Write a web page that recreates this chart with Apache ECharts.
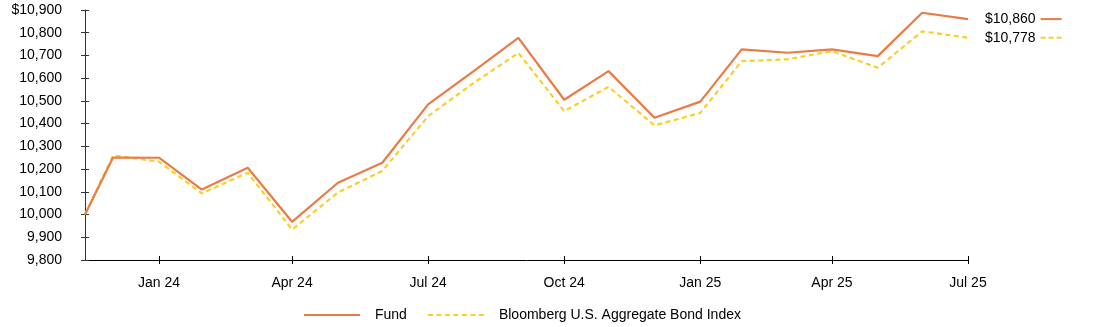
<!DOCTYPE html>
<html>
<head>
<meta charset="utf-8">
<script src="https://cdn.jsdelivr.net/npm/echarts@6/dist/echarts.min.js"></script>
<style>
  html, body { margin: 0; padding: 0; background: #fff; }
  #chart { width: 1094px; height: 327px; }
</style>
</head>
<body>
<div id="chart"></div>
<script>
// ---- data ----
const dates = ['2023-12-12','2023-12-31','2024-01-31','2024-02-29','2024-03-31','2024-04-30','2024-05-31','2024-06-30','2024-07-31','2024-08-31','2024-09-30','2024-10-31','2024-11-30','2024-12-31','2025-01-31','2025-02-28','2025-03-31','2025-04-30','2025-05-31','2025-06-30','2025-07-31'];
const fundValues = [10000,10251,10250,10110,10206,9968,10140,10228,10485,10632,10777,10505,10631,10426,10497,10727,10712,10727,10697,10888,10860];
const indexValues = [10000,10260,10233,10093,10184,9934,10097,10192,10433,10580,10711,10455,10562,10392,10447,10675,10683,10719,10646,10806,10778];
const seriesNames = ['Fund', 'Bloomberg U.S. Aggregate Bond Index'];
const tickDates = ['2024-01-31','2024-04-30','2024-07-31','2024-10-31','2025-01-31','2025-04-30','2025-07-31'];
const yMin = 9800, yMax = 10900, yStep = 100;

const FONT = '"Liberation Sans", Arial, sans-serif';
const ORANGE = '#E97B45';
const YELLOW = '#F7D02C';
const MONTHS = ['Jan','Feb','Mar','Apr','May','Jun','Jul','Aug','Sep','Oct','Nov','Dec'];

function toTs(s) { const p = s.split('-').map(Number); return Date.UTC(p[0], p[1] - 1, p[2]); }
function fmtNum(v) { return Math.round(v).toLocaleString('en-US'); }

const xs = dates.map(toTs);
const tickTs = tickDates.map(toTs);
const xMin = xs[0], xMax = xs[xs.length - 1];

const gridBox = { left: 85, right: 126, top: 10, bottom: 67 };

const chart = echarts.init(document.getElementById('chart'), null, { renderer: 'canvas' });

const option = {
  animation: false,
  backgroundColor: '#fff',
  textStyle: { fontFamily: FONT },
  grid: [
    Object.assign({}, gridBox),
    Object.assign({}, gridBox)
  ],
  xAxis: [
    {
      type: 'value', gridIndex: 0, min: xMin, max: xMax, scale: true,
      axisLine: { show: true, lineStyle: { color: '#000', width: 1 } },
      axisTick: { show: true, inside: false, length: 4, customValues: tickTs, lineStyle: { color: '#000' } },
      axisLabel: {
        show: true, customValues: tickTs, margin: 16,
        fontSize: 14, color: '#000', fontFamily: FONT,
        formatter: function (v) { const d = new Date(v); return MONTHS[d.getUTCMonth()] + ' ' + String(d.getUTCFullYear()).slice(2); }
      },
      splitLine: { show: false }
    },
    {
      type: 'value', gridIndex: 1, min: xMin, max: xMax, scale: true,
      axisLine: { show: false },
      axisTick: { show: true, inside: true, length: 4, customValues: tickTs, lineStyle: { color: '#000' } },
      axisLabel: { show: false },
      splitLine: { show: false }
    }
  ],
  yAxis: [
    {
      type: 'value', gridIndex: 0, min: yMin, max: yMax, interval: yStep,
      axisLine: { show: true, lineStyle: { color: '#333', width: 1 } },
      axisTick: { show: true, inside: false, length: 4, lineStyle: { color: '#333' } },
      axisLabel: {
        fontSize: 14, color: '#000', margin: 23, fontFamily: FONT,
        formatter: function (v) { return (v === yMax ? '$' : '') + fmtNum(v); }
      },
      splitLine: { show: false }
    },
    {
      type: 'value', gridIndex: 1, min: yMin, max: yMax, interval: yStep,
      axisLine: { show: false },
      axisTick: { show: true, inside: true, length: 4, lineStyle: { color: '#333' } },
      axisLabel: { show: false },
      splitLine: { show: false }
    }
  ],
  legend: {
    left: 303, top: 308, padding: 0,
    itemWidth: 56, itemHeight: 14, itemGap: 20,
    itemStyle: { opacity: 0 },
    textStyle: { fontSize: 14, color: '#000', fontFamily: FONT, padding: [0, 0, 0, 10] },
    data: seriesNames
  },
  series: [
    {
      name: seriesNames[0], type: 'line', xAxisIndex: 0, yAxisIndex: 0,
      data: xs.map((x, i) => [x, fundValues[i]]),
      showSymbol: false, symbol: 'none',
      lineStyle: { color: ORANGE, width: 2.2 }, itemStyle: { color: ORANGE },
      z: 3,
      endLabel: {
        show: true, distance: 17,
        formatter: function (p) { return '$' + fmtNum(p.value[1]) + '{sp|}{s|}'; },
        fontSize: 14, color: '#000', fontFamily: FONT,
        rich: {
          sp: { width: 5, height: 2 },
          s: { width: 21, height: 2, backgroundColor: ORANGE }
        }
      }
    },
    {
      name: seriesNames[1], type: 'line', xAxisIndex: 0, yAxisIndex: 0,
      data: xs.map((x, i) => [x, indexValues[i]]),
      showSymbol: false, symbol: 'none',
      lineStyle: { color: YELLOW, width: 2.2, type: [5, 3.5] }, itemStyle: { color: YELLOW },
      z: 2,
      endLabel: {
        show: true, distance: 17,
        formatter: function (p) { return '$' + fmtNum(p.value[1]) + '{sp|}{d|}{g|}{d|}{g|}{d|}'; },
        fontSize: 14, color: '#000', fontFamily: FONT,
        rich: {
          sp: { width: 5, height: 2 },
          d: { width: 5, height: 2, backgroundColor: YELLOW },
          g: { width: 3, height: 2 }
        }
      }
    }
  ]
};

chart.setOption(option);
</script>
</body>
</html>
